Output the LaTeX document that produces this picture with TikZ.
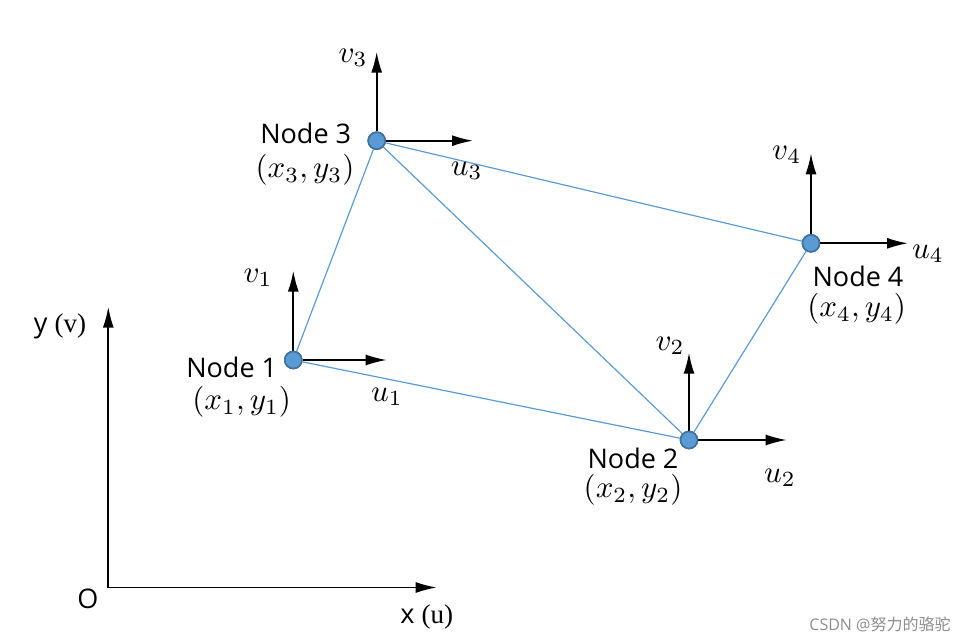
\documentclass[tikz,border=0pt]{standalone}
\usepackage[no-math]{fontspec}
\setmainfont{Open Sans}
\newfontfamily\cjkfont{Noto Sans CJK SC}
\newfontfamily\serifont{Liberation Serif}
\usetikzlibrary{arrows.meta}
\definecolor{nodefill}{HTML}{5B9BD5}
\definecolor{nodeedge}{HTML}{41719C}
\definecolor{edgeblue}{HTML}{5B9BD5}
\newcommand{\dofmath}[1]{\scalebox{3.1}{\fontsize{10}{12}\selectfont$#1$}}
\tikzset{
  fenode/.style={circle,fill=nodefill,draw=nodeedge,line width=1.6pt,minimum size=17pt,inner sep=0pt},
  element/.style={draw=edgeblue,line width=1.2pt},
  dof/.style={draw=black,line width=1.8pt,-{Latex[length=21pt,width=11pt]}},
  lbl/.style={font=\fontsize{27}{32}\selectfont,inner sep=0pt},
  mlbl/.style={inner sep=0pt}
}
\begin{document}
\begin{tikzpicture}[x=1pt,y=-1pt]
\useasboundingbox (0,0) rectangle (980,644);
% nodes
\node[fenode] (n1) at (293.3,360) {};
\node[fenode] (n2) at (689,440) {};
\node[fenode] (n3) at (376.7,140.7) {};
\node[fenode] (n4) at (811,243.3) {};
% elements
\draw[element] (n1) -- (n2);
\draw[element] (n2) -- (n3);
\draw[element] (n3) -- (n1);
\draw[element] (n3) -- (n4);
\draw[element] (n4) -- (n2);
% dof arrow ends
\coordinate (v1e) at (293.3,270.7);
\coordinate (u1e) at (386.7,360);
\coordinate (v2e) at (689,352.7);
\coordinate (u2e) at (786.7,440);
\coordinate (v3e) at (376.7,51.7);
\coordinate (u3e) at (473,140.7);
\coordinate (v4e) at (811,153.3);
\coordinate (u4e) at (908,243.3);
\draw[dof] (n1.north) -- (v1e);
\draw[dof] (n1.east) -- (u1e);
\draw[dof] (n2.north) -- (v2e);
\draw[dof] (n2.east) -- (u2e);
\draw[dof] (n3.north) -- (v3e);
\draw[dof] (n3.east) -- (u3e);
\draw[dof] (n4.north) -- (v4e);
\draw[dof] (n4.east) -- (u4e);
% redraw nodes on top
\node[fenode] at (n1) {};
\node[fenode] at (n2) {};
\node[fenode] at (n3) {};
\node[fenode] at (n4) {};
% axes
\coordinate (O) at (108.3,587.5);
\coordinate (ytop) at (108.3,306.7);
\coordinate (xend) at (436.7,587.5);
\draw[dof] (O) -- (ytop);
\draw[dof] (O) -- (xend);
% labels
\node[lbl] (ly) at (60,326) {y {\serifont(v)}};
\node[lbl] (lo) at (88,599) {O};
\node[lbl] (lx) at (426.7,617) {x {\serifont(u)}};
\node[lbl] (t1) at (231.7,367) {Node 1};
\node[mlbl] (c1) at (241.7,402) {\dofmath{(x_1,y_1)}};
\node[mlbl] (lv1) at (258,278) {\dofmath{v_1}};
\node[mlbl] (lu1) at (387,397) {\dofmath{u_1}};
\node[lbl] (t2) at (633,458) {Node 2};
\node[mlbl] (c2) at (633,490) {\dofmath{(x_2,y_2)}};
\node[mlbl] (lv2) at (670,346) {\dofmath{v_2}};
\node[mlbl] (lu2) at (780,478) {\dofmath{u_2}};
\node[lbl] (t3) at (305.7,133) {Node 3};
\node[mlbl] (c3) at (305,170) {\dofmath{(x_3,y_3)}};
\node[mlbl] (lv3) at (353,58) {\dofmath{v_3}};
\node[mlbl] (lu3) at (466.7,171) {\dofmath{u_3}};
\node[lbl] (t4) at (858,276) {Node 4};
\node[mlbl] (c4) at (856.7,309) {\dofmath{(x_4,y_4)}};
\node[mlbl] (lv4) at (786.7,155) {\dofmath{v_4}};
\node[mlbl] (lu4) at (928,254) {\dofmath{u_4}};
\node[font=\fontsize{16}{18}\selectfont,text=black!45,inner sep=0pt] (wm) at (880,624) {CSDN @{\cjkfont 努力的骆驼}};
\end{tikzpicture}
\end{document}
